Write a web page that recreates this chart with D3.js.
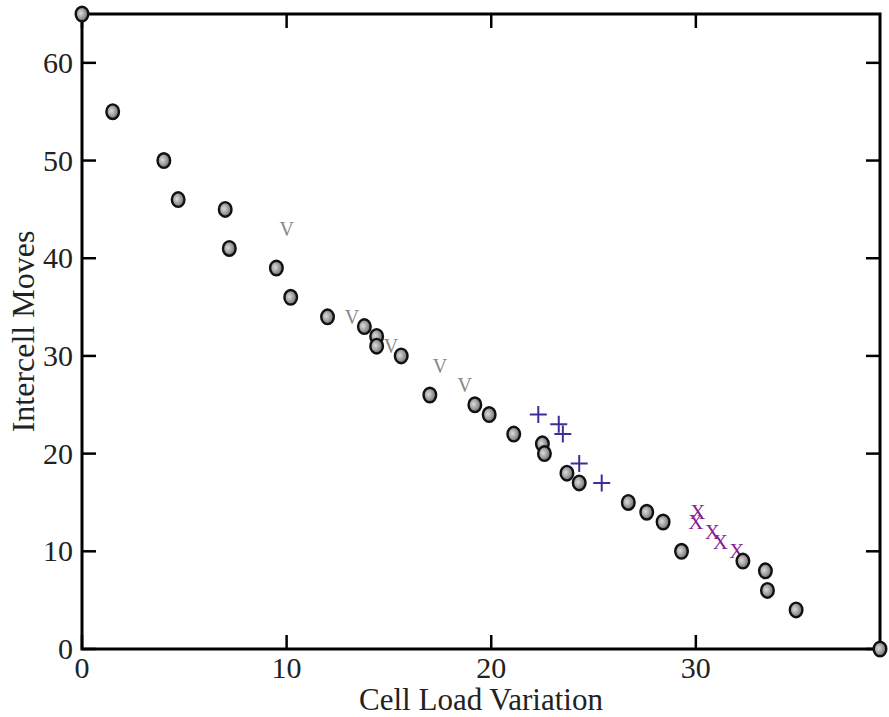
<!DOCTYPE html>
<html lang="en">
<head>
  <meta charset="UTF-8">
  <style>
    body { margin: 0; background: #fff; }
    svg text { font-family: "Liberation Serif", "DejaVu Serif", serif; }
  </style>
</head>
<body>
  <svg id="chart" width="889" height="717"></svg>

  <script src="https://d3js.org/d3.v7.min.js"></script>
  <script>
    // circles (gray "O" markers)
    const circleX = [0, 1.5, 4, 4.7, 7, 7.2, 9.5, 10.2, 12, 13.8, 14.4, 14.4, 15.6, 17, 19.2, 19.9, 21.1, 22.5, 22.6, 23.7, 24.3, 26.7, 27.6, 28.4, 29.3, 32.3, 33.4, 33.5, 34.9, 39];
    const circleY = [65, 55, 50, 46, 45, 41, 39, 36, 34, 33, 32, 31, 30, 26, 25, 24, 22, 21, 20, 18, 17, 15, 14, 13, 10, 9, 8, 6, 4, 0];
    // "V" markers
    const vX = [10, 13.2, 15.1, 17.5, 18.7];
    const vY = [43, 34, 31, 29, 27];
    // "+" markers
    const plusX = [22.3, 23.3, 23.5, 24.3, 25.4];
    const plusY = [24, 23, 22, 19, 17];
    // "X" markers
    const crossX = [30.1, 30.0, 30.8, 31.2, 32.0];
    const crossY = [14, 13, 12, 11, 10];

    const xTicks = [0, 10, 20, 30];
    const yTicks = [0, 10, 20, 30, 40, 50, 60];

    const margin = {left: 82, right: 9, top: 14, bottom: 68};
    const width = 889, height = 717;

    const svg = d3.select("#chart");

    const x = d3.scaleLinear().domain([0, 39]).range([margin.left, width - margin.right]);
    const y = d3.scaleLinear().domain([0, 65]).range([height - margin.bottom, margin.top]);

    const defs = svg.append("defs");
    const grad = defs.append("radialGradient").attr("id", "ball")
      .attr("cx", "40%").attr("cy", "45%").attr("r", "60%");
    grad.append("stop").attr("offset", "0%").attr("stop-color", "#dcdcdc");
    grad.append("stop").attr("offset", "100%").attr("stop-color", "#6a6a6a");

    const tickLen = 14;
    const fs = 30;

    // ticks inward on all four sides
    const g = svg.append("g");
    xTicks.forEach(t => {
      g.append("line").attr("x1", x(t)).attr("x2", x(t))
        .attr("y1", y(0)).attr("y2", y(0) - tickLen).attr("stroke", "#000").attr("stroke-width", 2.5);
      g.append("line").attr("x1", x(t)).attr("x2", x(t))
        .attr("y1", y(65)).attr("y2", y(65) + tickLen).attr("stroke", "#000").attr("stroke-width", 2.5);
      g.append("text").attr("x", x(t)).attr("y", y(0) + 29)
        .attr("text-anchor", "middle").attr("font-size", fs).attr("fill", "#222").text(t);
    });
    yTicks.forEach(t => {
      g.append("line").attr("x1", x(0)).attr("x2", x(0) + tickLen)
        .attr("y1", y(t)).attr("y2", y(t)).attr("stroke", "#000").attr("stroke-width", 2.5);
      g.append("line").attr("x1", x(39)).attr("x2", x(39) - tickLen)
        .attr("y1", y(t)).attr("y2", y(t)).attr("stroke", "#000").attr("stroke-width", 2.5);
      g.append("text").attr("x", x(0) - 9).attr("y", y(t) + 10)
        .attr("text-anchor", "end").attr("font-size", fs).attr("fill", "#222").text(t);
    });

    svg.append("rect")
      .attr("x", x(0)).attr("y", y(65))
      .attr("width", x(39) - x(0)).attr("height", y(0) - y(65))
      .attr("fill", "none").attr("stroke", "#000").attr("stroke-width", 3);

    // axis titles
    svg.append("text").attr("x", x(19.5)).attr("y", 710)
      .attr("text-anchor", "middle").attr("font-size", 31).attr("fill", "#222")
      .text("Cell Load Variation");
    svg.append("text").attr("transform", "translate(34," + y(32.5) + ") rotate(-90)")
      .attr("text-anchor", "middle").attr("font-size", 32).attr("fill", "#222")
      .text("Intercell Moves");

    // V markers
    svg.append("g").selectAll("text").data(d3.range(vX.length)).enter()
      .append("text")
      .attr("x", i => x(vX[i])).attr("y", i => y(vY[i]) + 7)
      .attr("text-anchor", "middle").attr("font-size", 20).attr("fill", "#878787")
      .text("V");

    // + markers
    const plus = svg.append("g").attr("stroke", "#3d2f9a").attr("stroke-width", 2);
    d3.range(plusX.length).forEach(i => {
      const cx = x(plusX[i]), cy = y(plusY[i]);
      plus.append("path")
        .attr("d", `M${cx - 8.5},${cy}H${cx + 8.5}M${cx},${cy - 8.5}V${cy + 8.5}`);
    });

    // X markers
    svg.append("g").selectAll("text").data(d3.range(crossX.length)).enter()
      .append("text")
      .attr("x", i => x(crossX[i])).attr("y", i => y(crossY[i]) + 7)
      .attr("text-anchor", "middle").attr("font-size", 21).attr("fill", "#8b1c98")
      .text("X");

    // circle markers
    svg.append("g").selectAll("ellipse").data(d3.range(circleX.length)).enter()
      .append("ellipse")
      .attr("cx", i => x(circleX[i])).attr("cy", i => y(circleY[i]))
      .attr("rx", 6.3).attr("ry", 7.3)
      .attr("fill", "url(#ball)").attr("stroke", "#111").attr("stroke-width", 2.4);
  </script>
</body>
</html>
